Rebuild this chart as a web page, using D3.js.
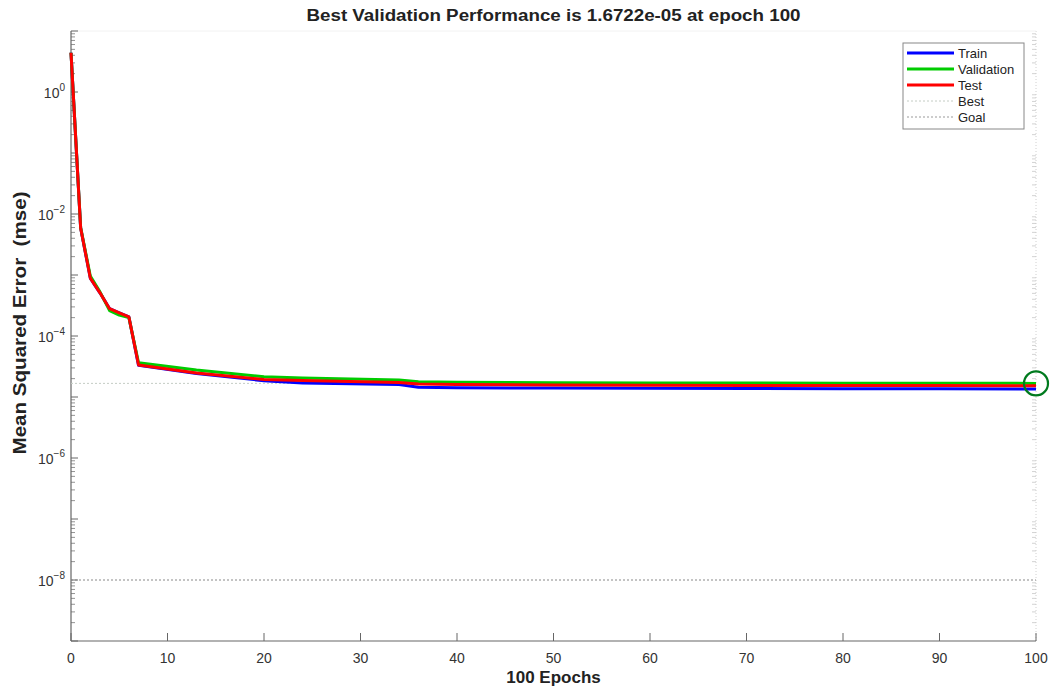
<!DOCTYPE html>
<html>
<head>
<meta charset="utf-8">
<script src="https://cdn.jsdelivr.net/npm/d3@7"></script>
<style>
  body { margin: 0; background: #fff; }
  svg { display: block; font-family: "Liberation Sans", Arial, sans-serif; }
</style>
</head>
<body>
<svg></svg>
<script>
  // values (epoch -> mse)
  var epochs     = [0, 1, 2, 3, 4, 5, 6, 7, 13, 20, 24, 34, 36, 40, 50, 60, 70, 80, 90, 100]
  var train      = [4.4, 5.9e-3, 8.9e-4, 5.1e-4, 2.8e-4, 2.4e-4, 2.05e-4, 3.3e-5, 2.42e-5, 1.85e-5, 1.7e-5, 1.6e-5, 1.45e-5, 1.42e-5, 1.4e-5, 1.39e-5, 1.38e-5, 1.37e-5, 1.36e-5, 1.35e-5]
  var validation = [4.4, 6.0e-3, 9.6e-4, 5.3e-4, 2.6e-4, 2.2e-4, 2.0e-4, 3.65e-5, 2.77e-5, 2.15e-5, 2.04e-5, 1.9e-5, 1.78e-5, 1.75e-5, 1.72e-5, 1.70e-5, 1.69e-5, 1.685e-5, 1.68e-5, 1.6722e-5]
  var test       = [4.4, 5.9e-3, 8.9e-4, 5.1e-4, 2.8e-4, 2.4e-4, 2.05e-4, 3.35e-5, 2.47e-5, 1.94e-5, 1.86e-5, 1.73e-5, 1.63e-5, 1.6e-5, 1.57e-5, 1.56e-5, 1.55e-5, 1.54e-5, 1.54e-5, 1.53e-5]

  var bestEpoch = 100
  var bestValue = 1.6722e-5
  var goalValue = 1e-8

  var xTicks = [0, 10, 20, 30, 40, 50, 60, 70, 80, 90, 100]
  var yLabelExps = [0, -2, -4, -6, -8]

  var legendItems = ["Train", "Validation", "Test", "Best", "Goal"]

  var width = 1055
  var height = 689
  var margin = { top: 31, right: 19, bottom: 48, left: 71 }

  var svg = d3.select('svg').attr('width', width).attr('height', height)

  var x = d3.scaleLinear().domain([0, 100]).range([margin.left, width - margin.right])
  var y = d3.scaleLog().domain([1e-9, 1e1]).range([height - margin.bottom, margin.top])

  var x0 = x.range()[0], x1 = x.range()[1]
  var yTop = y.range()[1], yBot = y.range()[0]

  // box edges (top / right are faint in the original)
  svg.append('line').attr('x1', x1).attr('x2', x1).attr('y1', yTop).attr('y2', yBot)
    .attr('stroke', '#d0d0d0').attr('stroke-dasharray', '1,2')
  svg.append('line').attr('x1', x0).attr('x2', x1).attr('y1', yTop).attr('y2', yTop)
    .attr('stroke', '#f2f2f2')

  // log ticks on the y axis: every decade plus 2..9 minors
  var minor = []
  var major = []
  for (var e = -9; e <= 1; e++) {
    major.push(Math.pow(10, e))
    if (e < 1) {
      for (var m = 2; m <= 9; m++) minor.push(m * Math.pow(10, e))
    }
  }

  var ticks = svg.append('g').attr('class', 'ticks')
  ticks.selectAll('.ymin').data(minor).enter().append('line')
    .attr('x1', x0).attr('x2', x0 + 4)
    .attr('y1', function (d) { return y(d) }).attr('y2', function (d) { return y(d) })
    .attr('stroke', '#777').attr('stroke-width', 0.8)
  ticks.selectAll('.ymaj').data(major).enter().append('line')
    .attr('x1', x0).attr('x2', x0 + 7)
    .attr('y1', function (d) { return y(d) }).attr('y2', function (d) { return y(d) })
    .attr('stroke', '#666').attr('stroke-width', 1)
  // mirrored on the right edge
  ticks.selectAll('.yminr').data(minor).enter().append('line')
    .attr('x1', x1).attr('x2', x1 - 4)
    .attr('y1', function (d) { return y(d) }).attr('y2', function (d) { return y(d) })
    .attr('stroke', '#c8c8c8').attr('stroke-width', 0.8)

  ticks.selectAll('.xt').data(xTicks).enter().append('line')
    .attr('x1', function (d) { return x(d) }).attr('x2', function (d) { return x(d) })
    .attr('y1', yBot).attr('y2', yBot - 8)
    .attr('stroke', '#666').attr('stroke-width', 1)

  // axis lines
  svg.append('line').attr('x1', x0).attr('x2', x0).attr('y1', yTop).attr('y2', yBot)
    .attr('stroke', '#666').attr('stroke-width', 1.2)
  svg.append('line').attr('x1', x0).attr('x2', x1).attr('y1', yBot).attr('y2', yBot)
    .attr('stroke', '#666').attr('stroke-width', 1.2)

  // x tick labels
  svg.append('g').selectAll('text').data(xTicks).enter().append('text')
    .attr('x', function (d) { return x(d) })
    .attr('y', yBot + 22)
    .attr('text-anchor', 'middle')
    .attr('font-size', 14)
    .attr('fill', '#333')
    .text(function (d) { return d })

  // y tick labels 10^n
  var yl = svg.append('g').selectAll('text').data(yLabelExps).enter().append('text')
    .attr('x', x0 - 6)
    .attr('y', function (d) { return y(Math.pow(10, d)) + 6 })
    .attr('text-anchor', 'end')
    .attr('font-size', 14)
    .attr('fill', '#333')
  yl.append('tspan').text('10')
  yl.append('tspan').attr('dy', -7).attr('font-size', 10)
    .text(function (d) { return d === 0 ? '0' : '\u2212' + (-d) })

  // best and goal reference lines
  svg.append('line').attr('x1', x0).attr('x2', x1)
    .attr('y1', y(bestValue)).attr('y2', y(bestValue))
    .attr('stroke', '#c4ccc4').attr('stroke-width', 1).attr('stroke-dasharray', '2,2')
  svg.append('line').attr('x1', x0).attr('x2', x1)
    .attr('y1', y(goalValue)).attr('y2', y(goalValue))
    .attr('stroke', '#888').attr('stroke-width', 1).attr('stroke-dasharray', '2,2')

  var line = d3.line()
    .x(function (d) { return x(d[0]) })
    .y(function (d) { return y(d[1]) })

  var series = [
    { name: 'Train', values: train, color: '#0000ff' },
    { name: 'Validation', values: validation, color: '#00cc00' },
    { name: 'Test', values: test, color: '#ff0000' }
  ]

  svg.append('g').selectAll('path').data(series).enter().append('path')
    .attr('d', function (s) { return line(epochs.map(function (ep, i) { return [ep, s.values[i]] })) })
    .attr('fill', 'none')
    .attr('stroke', function (s) { return s.color })
    .attr('stroke-width', 3)
    .attr('stroke-linejoin', 'round')

  // best point marker
  svg.append('circle')
    .attr('cx', x(bestEpoch)).attr('cy', y(bestValue)).attr('r', 12)
    .attr('fill', 'none').attr('stroke', '#007a1e').attr('stroke-width', 2.2)

  // legend
  var lg = svg.append('g').attr('transform', 'translate(903,43)')
  lg.append('rect').attr('width', 121).attr('height', 86)
    .attr('fill', '#fff').attr('stroke', '#888').attr('stroke-width', 1)
  var legendStyle = {
    Train: { color: '#0000ff', w: 3, dash: null },
    Validation: { color: '#00cc00', w: 3, dash: null },
    Test: { color: '#ff0000', w: 3, dash: null },
    Best: { color: '#c4ccc4', w: 1, dash: '2,2' },
    Goal: { color: '#999', w: 1, dash: '2,2' }
  }
  var items = lg.selectAll('g').data(legendItems).enter().append('g')
    .attr('transform', function (d, i) { return 'translate(0,' + (10 + i * 16) + ')' })
  items.append('line').attr('x1', 4).attr('x2', 51)
    .attr('stroke', function (d) { return legendStyle[d].color })
    .attr('stroke-width', function (d) { return legendStyle[d].w })
    .attr('stroke-dasharray', function (d) { return legendStyle[d].dash })
  items.append('text').attr('x', 55).attr('y', 5)
    .attr('font-size', 13).attr('fill', '#222')
    .text(function (d) { return d })

  // titles
  svg.append('text')
    .attr('x', (x0 + x1) / 2).attr('y', 21)
    .attr('text-anchor', 'middle')
    .attr('font-size', 16).attr('font-weight', 'bold').attr('fill', '#222')
    .attr('textLength', 494).attr('lengthAdjust', 'spacingAndGlyphs')
    .text('Best Validation Performance is 1.6722e-05 at epoch 100')

  svg.append('text')
    .attr('x', (x0 + x1) / 2).attr('y', 683)
    .attr('text-anchor', 'middle')
    .attr('font-size', 17).attr('font-weight', 'bold').attr('fill', '#222')
    .text('100 Epochs')

  svg.append('text')
    .attr('transform', 'translate(26,323) rotate(-90)')
    .attr('text-anchor', 'middle')
    .attr('font-size', 18).attr('font-weight', 'bold').attr('fill', '#222')
    .attr('textLength', 263).attr('lengthAdjust', 'spacingAndGlyphs')
    .text('Mean Squared Error\u00a0\u00a0(mse)')
</script>
</body>
</html>
